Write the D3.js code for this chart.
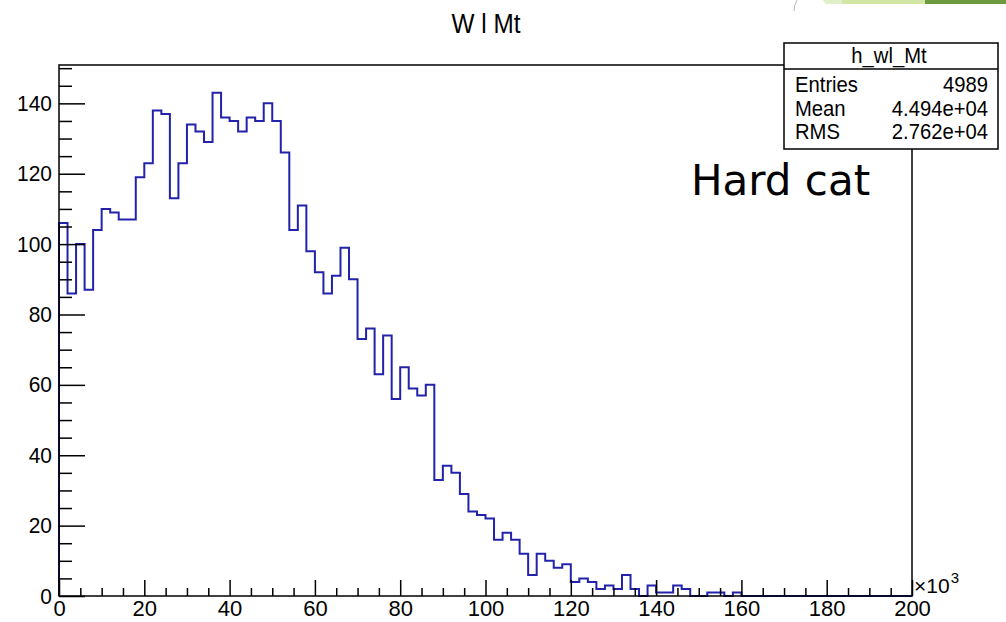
<!DOCTYPE html>
<html>
<head>
<meta charset="utf-8">
<script src="https://d3js.org/d3.v7.min.js"></script>
<style>
  body { margin: 0; background: #fff; }
  svg { display: block; font-family: "Liberation Sans", Arial, sans-serif; }
</style>
</head>
<body>
<svg id="svg" width="1006" height="622"></svg>
<script>
// bin contents of h_wl_Mt, 100 bins of width 2 (x10^3) from 0 to 200
var binCounts = [106, 86, 100, 87, 104, 110, 109, 107, 107, 119,
                 123, 138, 137, 113, 123, 134, 132, 129, 143, 136,
                 135, 132, 136, 135, 140, 135, 126, 104, 111, 98,
                 92, 86, 91, 99, 90, 73, 76, 63, 74, 56,
                 65, 59, 57, 60, 33, 37, 35, 29, 24, 23,
                 22, 16, 18, 16, 12, 6, 12, 10, 8, 9,
                 4, 5, 4, 2, 3, 2, 6, 2, 0, 3,
                 1, 1, 3, 2, 0, 0, 1, 1, 0, 1,
                 0, 0, 0, 0, 0, 0, 0, 0, 0, 0,
                 0, 0, 0, 0, 0, 0, 0, 0, 0, 0];
var xMin = 0, xMax = 200, yMax = 150.9;
var xTickLabels = [0, 20, 40, 60, 80, 100, 120, 140, 160, 180, 200];
var yTickLabels = [0, 20, 40, 60, 80, 100, 120, 140];
var statNames = ["Entries", "Mean", "RMS"];
var statValues = ["4989", "4.494e+04", "2.762e+04"];
var histName = "h_wl_Mt";
var title = "W l Mt";

var svg = d3.select("svg");

function condense(sel, k) {
    sel.each(function () {
        var len = this.getComputedTextLength();
        d3.select(this).attr("textLength", len * k).attr("lengthAdjust", "spacingAndGlyphs");
    });
}

// slide decoration, top right
svg.append("path").attr("d", "M823,0 L1006,0 L1006,4 L826,4 Z").attr("fill", "#d3e6a6");
svg.append("path").attr("d", "M823,0 L842,0 L842,4 L826,4 Z").attr("fill", "#e2eec8");
svg.append("rect").attr("x", 925).attr("y", 0).attr("width", 81).attr("height", 4).attr("fill", "#6b9a40");
svg.append("path").attr("d", "M797,0 Q794,5 794,11").attr("fill", "none").attr("stroke", "#b8b8b8").attr("stroke-width", 1);

var x = d3.scaleLinear().domain([xMin, xMax]).range([59, 912]);
var y = d3.scaleLinear().domain([0, yMax]).range([596, 65]);

// histogram outline
var binW = (xMax - xMin) / binCounts.length;
var pts = [[xMin, 0]];
binCounts.forEach(function (c, i) { pts.push([xMin + i * binW, c]); });
pts.push([xMax, binCounts[binCounts.length - 1]]);
pts.push([xMax, 0]);

var line = d3.line()
    .x(function (d) { return x(d[0]); })
    .y(function (d) { return y(d[1]); })
    .curve(d3.curveStepAfter);

svg.append("path").datum(pts)
    .attr("d", line)
    .attr("fill", "none")
    .attr("stroke", "#2222aa")
    .attr("stroke-width", 2);

// frame
svg.append("rect").attr("x", 59).attr("y", 65).attr("width", 853).attr("height", 531)
    .attr("fill", "none").attr("stroke", "#000").attr("stroke-width", 1.5);

// y axis
var yMinor = d3.range(0, 151, 5).filter(function (v) { return v % 20 !== 0; });
var gy = svg.append("g").attr("transform", "translate(59,0)")
    .call(d3.axisLeft(y).tickValues(yTickLabels).tickSize(-26).tickSizeOuter(0).tickPadding(7));
svg.append("g").attr("transform", "translate(59,0)")
    .call(d3.axisLeft(y).tickValues(yMinor).tickSize(-13).tickSizeOuter(0).tickFormat(""));

// x axis
var xMinor = d3.range(0, 201, 5).filter(function (v) { return v % 20 !== 0; });
var gx = svg.append("g").attr("transform", "translate(0,596)")
    .call(d3.axisBottom(x).tickValues(xTickLabels).tickSize(-16).tickSizeOuter(0).tickPadding(4));
svg.append("g").attr("transform", "translate(0,596)")
    .call(d3.axisBottom(x).tickValues(xMinor).tickSize(-8).tickSizeOuter(0).tickFormat(""));

svg.selectAll(".domain").remove();
svg.selectAll(".tick line").attr("stroke", "#000").attr("stroke-width", 1.5);
svg.selectAll(".tick text").attr("fill", "#000").style("font-size", "22px")
    .style("font-family", "Liberation Sans, Arial, sans-serif");
condense(gy.selectAll(".tick text"), 0.95);
condense(gx.selectAll(".tick text"), 1.0);

// x10^3 multiplier
var mult = svg.append("text").attr("x", 914).attr("y", 593).style("font-size", "21px").text("\u00d710");
var mw = mult.node().getComputedTextLength();
svg.append("text").attr("x", 914 + mw + 1).attr("y", 583).style("font-size", "15px").text("3");

// title
var t = svg.append("text").attr("x", 486).attr("y", 33).attr("text-anchor", "middle")
    .style("font-size", "27px").text(title);
condense(t, 0.9);

// stats box
var bx = 784, by = 43, bw = 214, bh = 106, hdr = 26, rowH = 23.5;
svg.append("rect").attr("x", bx).attr("y", by).attr("width", bw).attr("height", bh)
    .attr("fill", "#fff").attr("stroke", "#000").attr("stroke-width", 1.5);
svg.append("line").attr("x1", bx).attr("x2", bx + bw).attr("y1", by + hdr).attr("y2", by + hdr)
    .attr("stroke", "#000").attr("stroke-width", 1.5);
var hn = svg.append("text").attr("x", bx + bw / 2 - 2).attr("y", by + 20).attr("text-anchor", "middle")
    .style("font-size", "22px").text(histName);
condense(hn, 0.92);
statNames.forEach(function (n, i) {
    var yy = by + 49 + i * rowH;
    var a = svg.append("text").attr("x", bx + 11).attr("y", yy).style("font-size", "22px").text(n);
    var b = svg.append("text").attr("x", bx + bw - 10).attr("y", yy).attr("text-anchor", "end")
        .style("font-size", "22px").text(statValues[i]);
    condense(a, 0.92);
    condense(b, 0.92);
});

// slide annotation
svg.append("text").attr("x", 691).attr("y", 195)
    .style("font-family", "DejaVu Sans, sans-serif").style("font-size", "42px").text("Hard cat");
</script>
</body>
</html>
